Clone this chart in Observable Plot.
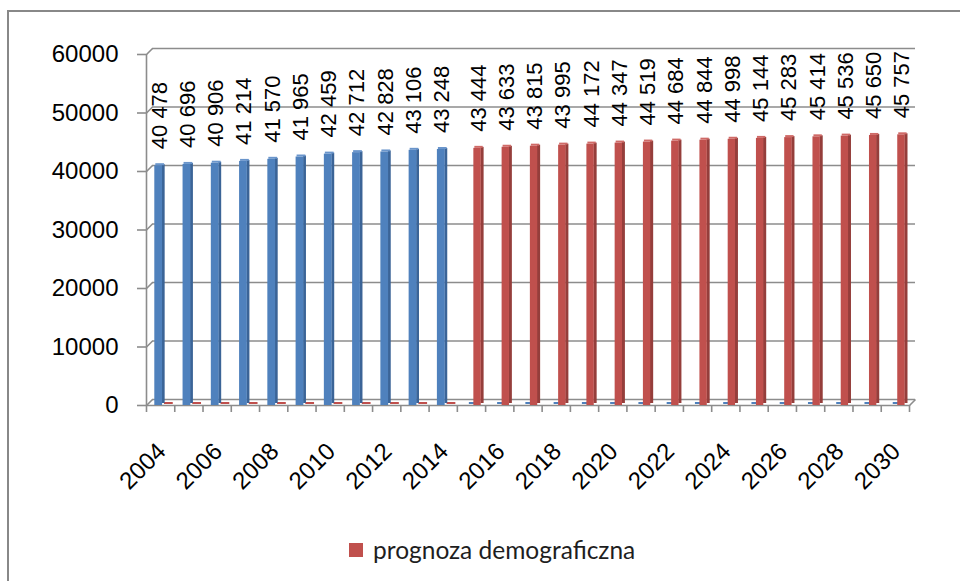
<!DOCTYPE html>
<html>
<head>
<meta charset="utf-8">
<script src="https://cdn.jsdelivr.net/npm/d3@7"></script>
<script src="https://cdn.jsdelivr.net/npm/@observablehq/plot@0.6"></script>
<style>
  html, body { margin: 0; padding: 0; background: #fff; }
  #wrap { position: relative; width: 960px; height: 581px; overflow: hidden; font-family: "Liberation Sans", Arial, sans-serif; }
  #border { position: absolute; left: 7px; top: 10px; width: 1000px; height: 700px; border-left: 2px solid #888; border-top: 2px solid #888; }
  #chart { position: absolute; left: 0; top: 0; }
  #legend { position: absolute; left: 349px; top: 535px; display: flex; align-items: center; font-family: Lato, "Liberation Sans", sans-serif; font-size: 24.5px; color: #1e1e1e; }
  #legend .sw { width: 14px; height: 14px; background: #C0504D; margin-right: 10px; }
</style>
</head>
<body>
<div id="wrap">
  <div id="border"></div>
  <div id="chart"></div>
  <div id="legend"><span class="sw"></span><span id="legendText"></span></div>
</div>
<script>
// ---- data ----
const historicalYears = [2004, 2005, 2006, 2007, 2008, 2009, 2010, 2011, 2012, 2013, 2014];
const historicalValues = [40478, 40696, 40906, 41214, 41570, 41965, 42459, 42712, 42828, 43106, 43248];
const forecastYears = [2015, 2016, 2017, 2018, 2019, 2020, 2021, 2022, 2023, 2024, 2025, 2026, 2027, 2028, 2029, 2030];
const forecastValues = [43444, 43633, 43815, 43995, 44172, 44347, 44519, 44684, 44844, 44998, 45144, 45283, 45414, 45536, 45650, 45757];
const yTicks = [0, 10000, 20000, 30000, 40000, 50000, 60000];
const xTickLabels = ["2004", "2006", "2008", "2010", "2012", "2014", "2016", "2018", "2020", "2022", "2024", "2026", "2028", "2030"];
const legendLabel = "prognoza demograficzna";

// ---- build tables ----
const allYears = historicalYears.concat(forecastYears);
const idx = y => allYears.indexOf(y);
const hist = historicalYears.map((y, k) => ({year: y, i: idx(y), value: historicalValues[k]}));
const fore = forecastYears.map((y, k) => ({year: y, i: idx(y), value: forecastValues[k]}));
const histZero = forecastYears.map(y => ({year: y, i: idx(y), value: 0}));
const foreZero = historicalYears.map(y => ({year: y, i: idx(y), value: 0}));
const nCat = allYears.length;
const boundaries = allYears.map((y, k) => k).concat([nCat]);
const xLabelRows = xTickLabels.map(t => ({label: t, i: idx(+t)}));
const yMax = yTicks[yTicks.length - 1];

const fmt = v => d3.format(",")(v).replace(/,/g, "\u00a0");

// ---- layout ----
const W = 960, H = 520, mL = 146, mR = 51, mT = 54, mB = 115;
const ux = nCat / (W - mL - mR);        // data units per px (x)
const uy = yMax / (H - mT - mB);        // data units per px (y)
const depth = 6;
const gray = "#8c8c8c";
const blue = "#4F81BD", blueSide = "#3B6497", blueTop = "#6A95CB";
const red = "#C0504D", redSide = "#953E3B", redTop = "#CF6A67";

const chart = Plot.plot({
  width: W, height: H,
  marginLeft: mL, marginRight: mR, marginTop: mT, marginBottom: mB,
  x: {type: "linear", domain: [0, nCat], axis: null},
  y: {domain: [0, yMax], axis: null},
  style: {fontFamily: "Liberation Sans, Arial, sans-serif", background: "transparent", overflow: "visible"},
  marks: [
    // back wall gridlines
    Plot.ruleY(yTicks, {y: d => d, x1: 0, x2: nCat, dx: depth, dy: -depth, stroke: gray, strokeWidth: 1.6}),
    // wall connectors
    Plot.link(yTicks, {x1: 0, y1: d => d, x2: depth * ux, y2: d => d + depth * uy, stroke: gray, strokeWidth: 1.6}),
    Plot.link([0], {x1: nCat, y1: 0, x2: nCat + depth * ux, y2: depth * uy, stroke: gray, strokeWidth: 1.6}),
    // floor front edge
    Plot.ruleY([0], {x1: 0, x2: nCat, stroke: gray, strokeWidth: 1.6}),
    // y axis line + ticks
    Plot.ruleX([0], {y1: 0, y2: yMax, stroke: gray, strokeWidth: 1.6}),
    Plot.ruleY(yTicks, {y: d => d, x1: -9 * ux, x2: 0, stroke: gray, strokeWidth: 1.6}),
    // x ticks
    Plot.ruleX(boundaries, {x: d => d, y1: 0, y2: -7 * uy, stroke: gray, strokeWidth: 1.6}),
    // zero (flat) bars
    Plot.rectY(histZero, {x1: d => d.i, x2: d => d.i + 1, y1: 0, y2: 0, insetLeft: 12, insetRight: 7, insetTop: -3, insetBottom: 1, fill: blue}),
    Plot.rectY(foreZero, {x1: d => d.i, x2: d => d.i + 1, y1: 0, y2: 0, insetLeft: 18, insetRight: 1.5, insetTop: -3, insetBottom: 1, fill: red}),
    // historical bars (side + front + top)
    Plot.rectY(hist, {x1: d => d.i, x2: d => d.i + 1, y1: 0, y2: "value", insetLeft: 15.8, insetRight: 9.6, insetTop: -4, insetBottom: 2, fill: blueSide}),
    Plot.rectY(hist, {x1: d => d.i, x2: d => d.i + 1, y1: 0, y2: "value", insetLeft: 8.3, insetRight: 12.2, insetTop: -3, fill: blue}),
    Plot.rectY(hist, {x1: d => d.i, x2: d => d.i + 1, y1: "value", y2: "value", insetLeft: 9.3, insetRight: 10.2, insetTop: -5, insetBottom: 3, fill: blueTop}),
    // forecast bars
    Plot.rectY(fore, {x1: d => d.i, x2: d => d.i + 1, y1: 0, y2: "value", insetLeft: 23.6, insetRight: 1.5, insetTop: -4, insetBottom: 2, fill: redSide}),
    Plot.rectY(fore, {x1: d => d.i, x2: d => d.i + 1, y1: 0, y2: "value", insetLeft: 16.5, insetRight: 4.4, insetTop: -3, fill: red}),
    Plot.rectY(fore, {x1: d => d.i, x2: d => d.i + 1, y1: "value", y2: "value", insetLeft: 17.5, insetRight: 2.4, insetTop: -5, insetBottom: 3, fill: redTop}),
    // value labels
    Plot.text(hist, {x: d => d.i + 0.5, y: "value", text: d => fmt(d.value), rotate: -90, textAnchor: "start", dx: -1, dy: -19.5, fontSize: 22, fill: "#000"}),
    Plot.text(fore, {x: d => d.i + 0.5, y: "value", text: d => fmt(d.value), rotate: -90, textAnchor: "start", dx: 7, dy: -19.5, fontSize: 22, fill: "#000"}),
    // y tick labels
    Plot.text(yTicks, {x: 0, y: d => d, text: d => String(d), textAnchor: "end", dx: -28, fontSize: 24, fill: "#000"}),
    // x tick labels
    Plot.text(xLabelRows, {x: d => d.i + 0.5, y: 0, text: "label", rotate: -45, textAnchor: "end", dx: 1, dy: 42, fontSize: 24, fill: "#000"})
  ]
});
document.getElementById("chart").appendChild(chart);
document.getElementById("legendText").textContent = legendLabel;
</script>
</body>
</html>
